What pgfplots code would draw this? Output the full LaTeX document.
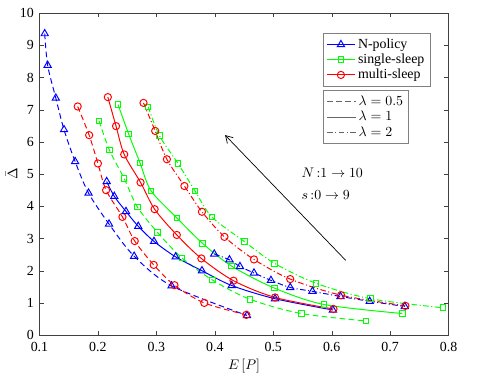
\documentclass[border=0pt]{standalone}
\usepackage{fontspec}
\setmainfont{Liberation Serif}
\usepackage{pgfplots}
\pgfplotsset{compat=1.18}
\usetikzlibrary{arrows.meta}
\definecolor{mblue}{RGB}{0,0,255}
\definecolor{mgreen}{RGB}{0,255,0}
\definecolor{mred}{RGB}{255,0,0}
\definecolor{axgray}{gray}{0.25}

\pgfplotsset{
  mdash/.style={dash pattern=on 4pt off 2.5pt},
  mdot/.style={dash pattern=on 4pt off 1.8pt on 0.8pt off 1.8pt},
  npol/.style={mblue, line width=0.7pt, mark=triangle, mark size=3pt, mark options={solid, line width=0.7pt}},
  ssl/.style={mgreen, line width=0.7pt, mark=square, mark size=2pt, mark options={solid, line width=0.7pt}},
  msl/.style={mred, line width=0.7pt, mark=o, mark size=2.6pt, mark options={solid, line width=0.7pt}},
}

\begin{document}
\begin{tikzpicture}
\useasboundingbox (-28.4pt,-35.3pt) rectangle (325pt,241.2pt);
\begin{axis}[
    at={(0,0)}, anchor=south west,
    scale only axis, width=294.5pt, height=231.8pt,
    xmin=0.1, xmax=0.8, ymin=0, ymax=10,
    xtick={0.1,0.2,...,0.8}, ytick={0,1,...,10},
    xticklabel style={yshift=-1.5pt, /pgf/number format/.cd, fixed, fixed zerofill, precision=1},
    yticklabel style={xshift=-0.5pt},
    /pgf/number format/assume math mode=true,
    tick align=inside, xtick pos=both, ytick pos=both,
    major tick length=3pt,
    axis line style={axgray}, tick style={axgray},
    xlabel={$E\left[P\right]$}, ylabel={$\bar{\Delta}$},
    ylabel shift=-5pt, xlabel shift=-1.5pt,
    legend cell align=left,
    legend style={at={(0.694,0.939)}, anchor=north west, draw=gray, line width=0.6pt,
      row sep=-1.5pt, inner sep=2pt},
    legend image code/.code={\draw[mark repeat=2, mark phase=2, #1] plot coordinates {(0cm,0cm) (0.35cm,0cm) (0.7cm,0cm)};},
]
\addlegendimage{npol}
\addlegendentry{N-policy}
\addlegendimage{ssl}
\addlegendentry{single-sleep}
\addlegendimage{msl}
\addlegendentry{multi-sleep}

% lambda = 0.5 (dashed)
\addplot[npol, mdash, smooth, forget plot] coordinates {
 (0.109,9.36) (0.114,8.38) (0.128,7.36) (0.142,6.38) (0.161,5.39)
 (0.184,4.41) (0.219,3.45) (0.262,2.45) (0.326,1.53) (0.455,0.61)};
\addplot[msl, mdash, smooth, forget plot] coordinates {
 (0.1654,7.10) (0.185,6.21) (0.200,5.33) (0.214,4.50) (0.242,3.67)
 (0.263,2.92) (0.2955,2.18) (0.331,1.55) (0.382,1.00) (0.454,0.63)};
\addplot[ssl, mdash, smooth, forget plot] coordinates {
 (0.202,6.65) (0.2196,5.75) (0.2447,4.87) (0.2675,3.98) (0.302,3.19)
 (0.3435,2.40) (0.396,1.71) (0.4605,1.11) (0.548,0.67) (0.6585,0.44)};

% lambda = 1 (solid)
\addplot[npol, smooth, forget plot] coordinates {
 (0.215,4.77) (0.228,4.31) (0.248,3.84) (0.269,3.38) (0.296,2.91)
 (0.333,2.43) (0.378,2.00) (0.429,1.54) (0.503,1.13) (0.602,0.78)};
\addplot[ssl, smooth, forget plot] coordinates {
 (0.2344,7.16) (0.2527,6.24) (0.272,5.35) (0.291,4.48) (0.335,3.64)
 (0.379,2.85) (0.429,2.14) (0.502,1.46) (0.587,0.95) (0.721,0.67)};
\addplot[msl, smooth, forget plot] coordinates {
 (0.217,7.39) (0.231,6.49) (0.245,5.61) (0.273,4.74) (0.297,3.91)
 (0.335,3.11) (0.377,2.38) (0.432,1.69) (0.503,1.17) (0.603,0.81)};

% lambda = 2 (dash-dot)
\addplot[npol, mdot, smooth, forget plot] coordinates {
 (0.399,2.52) (0.425,2.34) (0.443,2.13) (0.467,1.93) (0.496,1.70)
 (0.529,1.48) (0.567,1.36) (0.615,1.20) (0.665,1.05) (0.725,0.89)};
\addplot[ssl, mdot, smooth, forget plot] coordinates {
 (0.286,7.09) (0.305,6.20) (0.337,5.33) (0.366,4.48) (0.395,3.67)
 (0.451,2.90) (0.502,2.23) (0.573,1.61) (0.666,1.13) (0.790,0.85)};
\addplot[msl, mdot, smooth, forget plot] coordinates {
 (0.278,7.21) (0.298,6.34) (0.318,5.46) (0.348,4.63) (0.378,3.83)
 (0.4165,3.05) (0.467,2.35) (0.529,1.74) (0.616,1.24) (0.726,0.91)};

\draw[-{Straight Barb[length=5pt,width=6pt]}, line width=0.5pt] (axis cs:0.624,2.32) -- (axis cs:0.4176,6.21);
\node[anchor=west, inner sep=0pt] at (axis cs:0.548,5.03) {$N\,{:}1\rightarrow 10$};
\node[anchor=west, inner sep=0pt] at (axis cs:0.548,4.35) {$s\,{:}0\rightarrow 9$};
\end{axis}

% second legend: line styles
\begin{axis}[
    at={(0,0)}, anchor=south west,
    scale only axis, width=294.5pt, height=231.8pt,
    xmin=0, xmax=1, ymin=0, ymax=1, hide axis,
    legend cell align=left,
    legend style={at={(0.694,0.761)}, anchor=north west, draw=gray, line width=0.6pt,
      row sep=-1.5pt, inner sep=2pt},
    legend image code/.code={\draw[#1] (0cm,0cm) -- (0.72cm,0cm);},
]
\addlegendimage{black!60, line width=0.6pt, mdash}
\addlegendentry{$\lambda=0.5$}
\addlegendimage{black!60, line width=0.6pt}
\addlegendentry{$\lambda=1$}
\addlegendimage{black!60, line width=0.6pt, mdot}
\addlegendentry{$\lambda=2$}
\end{axis}
\end{tikzpicture}
\end{document}
